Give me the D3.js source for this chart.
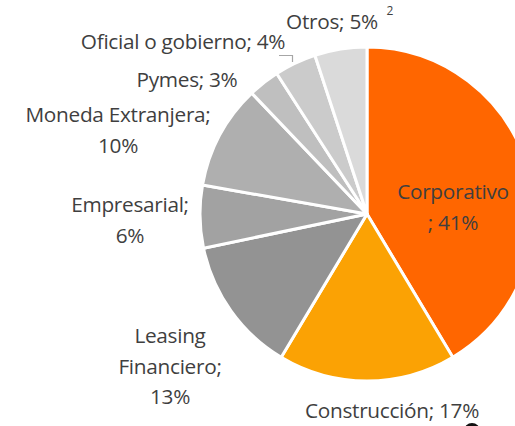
<!DOCTYPE html>
<html>
<head>
<meta charset="utf-8">
<script src="https://cdn.jsdelivr.net/npm/d3@7"></script>
<style>
  body { margin: 0; background: #fff; }
  svg { display: block; }
  text { font-family: "Open Sans", "Noto Sans", sans-serif; fill: #3f3f3f; }
</style>
</head>
<body>
<svg id="chart" width="515" height="426"></svg>
<script>
// Shares of the portfolio by segment (%), clockwise from 12 o'clock
const segments = ['Corporativo', 'Construcción', 'Leasing Financiero', 'Empresarial',
                  'Moneda Extranjera', 'Pymes', 'Oficial o gobierno', 'Otros'];
const shares = [41, 17, 13, 6, 10, 3, 4, 5];
const sliceColors = ['#ff6600', '#fba204', '#939393', '#a2a2a2',
                     '#afafaf', '#bfbfbf', '#cbcbcb', '#dadada'];

// label lines as they wrap in the picture
const labelLines = [
    ['Corporativo', '; 41%'],
    ['Construcción; 17%'],
    ['Leasing', 'Financiero;', '13%'],
    ['Empresarial;', '6%'],
    ['Moneda Extranjera;', '10%'],
    ['Pymes; 3%'],
    ['Oficial o gobierno; 4%'],
    ['Otros; 5%']
];
// label anchor (centre of first line)
const labelPos = [[453, 192], [392, 411], [170, 336], [130, 205],
                  [118, 115], [187, 80], [183, 42], [332, 22]];

const svg = d3.select('#chart');
const cx = 367, cy = 214, radius = 167;

const pie = d3.pie().sort(null).value(d => d.v);
const arc = d3.arc().innerRadius(0).outerRadius(radius);

const data = segments.map((s, i) => ({ name: s, v: shares[i], color: sliceColors[i] }));

const g = svg.append('g').attr('transform', `translate(${cx},${cy})`);
g.selectAll('path')
    .data(pie(data))
    .enter()
    .append('path')
    .attr('d', arc)
    .attr('fill', d => d.data.color)
    .attr('stroke', '#fff')
    .attr('stroke-width', 3)
    .attr('stroke-linejoin', 'round');

// labels
const lineH = 30.5;
labelLines.forEach((lines, i) => {
    const t = svg.append('text')
        .attr('text-anchor', 'middle')
        .attr('font-size', 20.8)
        .attr('letter-spacing', -0.3);
    lines.forEach((ln, j) => {
        t.append('tspan')
            .attr('x', labelPos[i][0])
            .attr('y', labelPos[i][1] + j * lineH)
            .attr('dy', '0.35em')
            .text(ln);
    });
});

// leader line for "Oficial o gobierno"
svg.append('path')
    .attr('d', 'M279,55.5H292.5V62')
    .attr('fill', 'none')
    .attr('stroke', '#a6a6a6')
    .attr('stroke-width', 1.2);

// footnote mark
svg.append('text')
    .attr('x', 390)
    .attr('y', 15)
    .attr('font-size', 12)
    .attr('text-anchor', 'middle')
    .text('2');

// partial black mark at the bottom edge
svg.append('ellipse')
    .attr('cx', 472)
    .attr('cy', 431)
    .attr('rx', 8)
    .attr('ry', 8)
    .attr('fill', '#111');
</script>
</body>
</html>
